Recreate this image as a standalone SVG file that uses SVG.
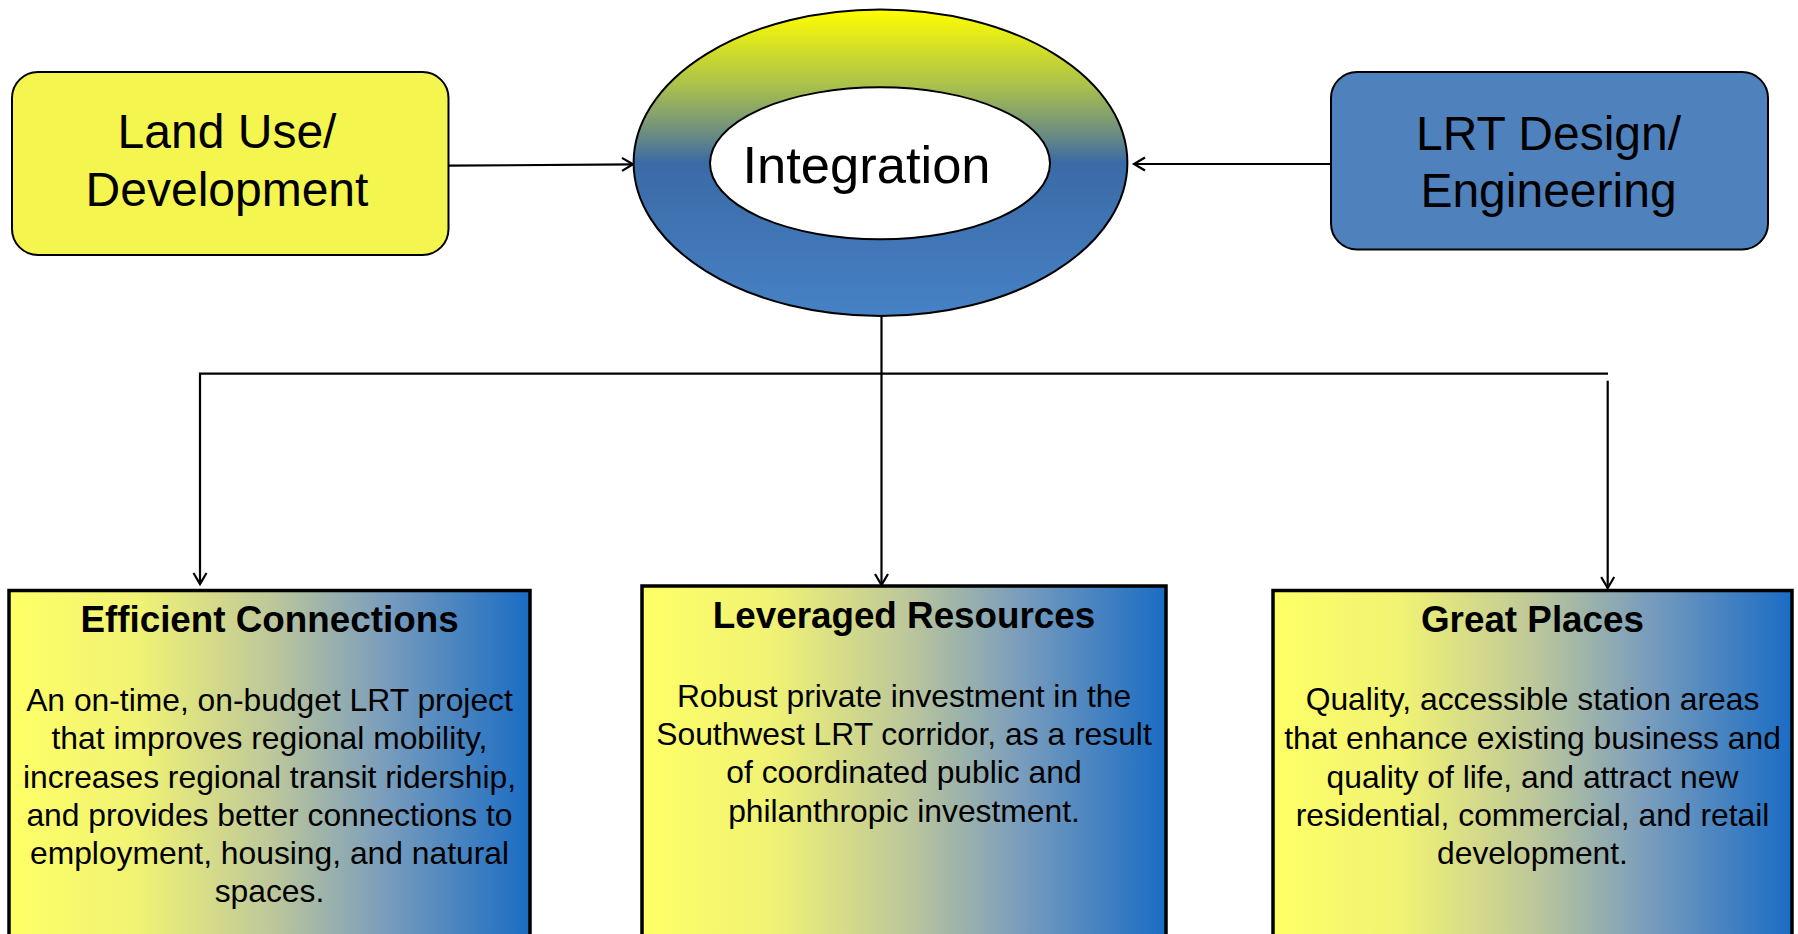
<svg xmlns="http://www.w3.org/2000/svg" width="1798" height="934" viewBox="0 0 1798 934">
<style>
.lbl{font-family:"Liberation Sans",Arial,sans-serif;fill:#000;text-anchor:middle}
.big{font-size:48px}
.ttl{font-size:36.8px;font-weight:bold}
.body{font-size:31.8px}
.con{stroke:#000;stroke-width:2.2;fill:none}
.box{stroke:#000;stroke-width:3.5}
</style>
<defs>
<linearGradient id="ring" x1="0" y1="0" x2="0" y2="1">
<stop offset="0" stop-color="#FFFF00"/>
<stop offset="0.25" stop-color="#A9C04C"/>
<stop offset="0.4" stop-color="#6E8E80"/>
<stop offset="0.5" stop-color="#3B6AA6"/>
<stop offset="1" stop-color="#4682C6"/>
</linearGradient>
<linearGradient id="card" x1="0" y1="0" x2="1" y2="0">
<stop offset="0" stop-color="#FFFF66"/>
<stop offset="0.25" stop-color="#F0F274"/>
<stop offset="0.5" stop-color="#BEC89A"/>
<stop offset="0.72" stop-color="#7A9DBC"/>
<stop offset="1" stop-color="#1A6CC4"/>
</linearGradient>
<marker id="arr" markerWidth="16" markerHeight="16" refX="13" refY="8" orient="auto" markerUnits="userSpaceOnUse">
<path d="M2,1.5 L13,8 L2,14.5" fill="none" stroke="#000" stroke-width="2.2"/>
</marker>
</defs>

<g id="connectors">
<line class="con" x1="448" y1="165.7" x2="633" y2="164.3" marker-end="url(#arr)"/>
<line class="con" x1="1340" y1="164" x2="1134" y2="164" marker-end="url(#arr)"/>
<line class="con" x1="881.5" y1="316" x2="881.5" y2="585" marker-end="url(#arr)"/>
<polyline class="con" points="1608,373.7 200,373.7 200,584" marker-end="url(#arr)"/>
<line class="con" x1="1607.7" y1="380.7" x2="1607.7" y2="588" marker-end="url(#arr)"/>
</g>

<g id="land-use">
<rect x="12" y="72" width="436.5" height="183" rx="26" ry="26" fill="#F5F54F" stroke="#000" stroke-width="2"/>
<text class="lbl big" x="227" y="147.7">Land Use/</text>
<text class="lbl big" x="227" y="205.7">Development</text>
</g>

<g id="integration">
<ellipse cx="880.5" cy="162.7" rx="246.9" ry="153.3" fill="url(#ring)" stroke="#000" stroke-width="2"/>
<ellipse cx="880" cy="163.3" rx="170" ry="76" fill="#FFFFFF" stroke="#000" stroke-width="2"/>
<text class="lbl" x="866.5" y="182.7" font-size="52.5">Integration</text>
</g>

<g id="lrt-design">
<rect x="1331" y="72" width="437" height="177.5" rx="26" ry="26" fill="#4F81BD" stroke="#000" stroke-width="2"/>
<text class="lbl big" x="1548.5" y="150">LRT Design/</text>
<text class="lbl big" x="1548.5" y="206.7">Engineering</text>
</g>

<g id="efficient-connections">
<rect class="box" x="9" y="590.5" width="521" height="360" fill="url(#card)"/>
<text class="lbl ttl" x="269.5" y="632">Efficient Connections</text>
<text class="lbl body" x="269.5" y="710.7">An on-time, on-budget LRT project</text>
<text class="lbl body" x="269.5" y="749">that improves regional mobility,</text>
<text class="lbl body" x="269.5" y="787.5">increases regional transit ridership,</text>
<text class="lbl body" x="269.5" y="825.7">and provides better connections to</text>
<text class="lbl body" x="269.5" y="864">employment, housing, and natural</text>
<text class="lbl body" x="269.5" y="902">spaces.</text>
</g>

<g id="leveraged-resources">
<rect class="box" x="642" y="586" width="524" height="365" fill="url(#card)"/>
<text class="lbl ttl" x="904" y="628.3">Leveraged Resources</text>
<text class="lbl body" x="904" y="706.7">Robust private investment in the</text>
<text class="lbl body" x="904" y="745">Southwest LRT corridor, as a result</text>
<text class="lbl body" x="904" y="783.3">of coordinated public and</text>
<text class="lbl body" x="904" y="821.7">philanthropic investment.</text>
</g>

<g id="great-places">
<rect class="box" x="1273" y="590.5" width="519" height="360" fill="url(#card)"/>
<text class="lbl ttl" x="1532.5" y="632.3">Great Places</text>
<text class="lbl body" x="1532.5" y="710">Quality, accessible station areas</text>
<text class="lbl body" x="1532.5" y="749.3">that enhance existing business and</text>
<text class="lbl body" x="1532.5" y="787.7">quality of life, and attract new</text>
<text class="lbl body" x="1532.5" y="825.7">residential, commercial, and retail</text>
<text class="lbl body" x="1532.5" y="864">development.</text>
</g>
</svg>
